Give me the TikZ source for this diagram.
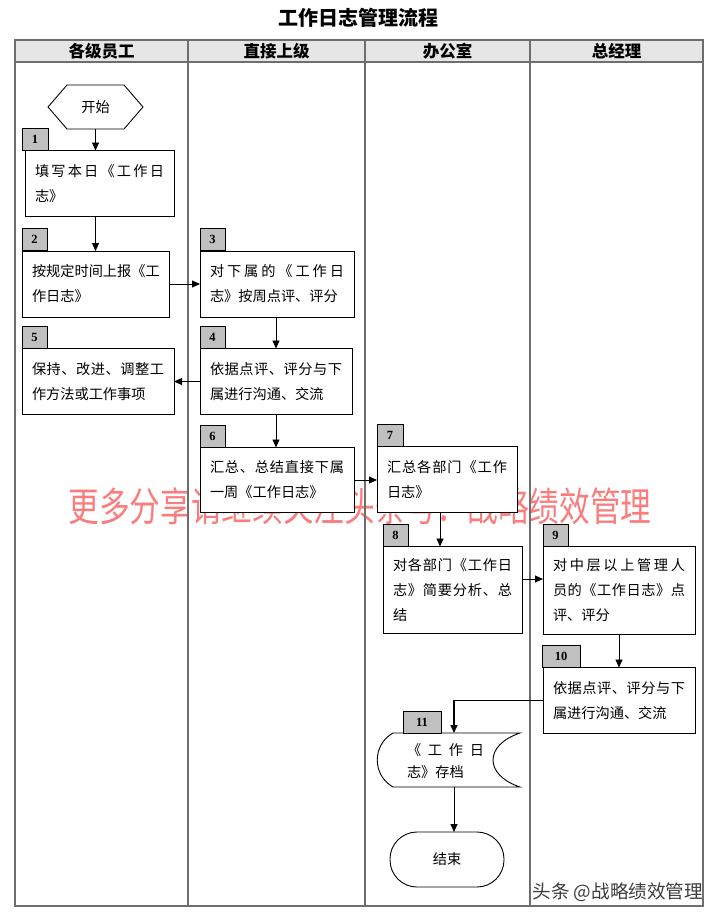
\documentclass[tikz,border=0pt]{standalone}
\usepackage{fontspec}
\usepackage{graphicx}
\usetikzlibrary{arrows.meta}
\setmainfont{Noto Sans CJK SC}
\newfontfamily\numfont{Liberation Serif}
\def\Jy#1{\ifx\relax#1\else\hfill#1\expandafter\Jy\fi}
\def\Jfirst#1{#1\Jy}
\newcommand\J[1]{\makebox[\linewidth][s]{\Jfirst#1\relax}}
\definecolor{hdr}{RGB}{230,230,230}
\definecolor{labfill}{RGB}{192,192,192}
\definecolor{lanecol}{RGB}{110,110,110}
\definecolor{wm}{RGB}{250,125,125}
\definecolor{credit}{RGB}{60,60,60}
\begin{document}
\begin{tikzpicture}[x=1pt,y=-1pt,
  every node/.style={inner sep=0pt, outer sep=0pt},
  txt/.style={font=\fontsize{14.2pt}{25pt}\selectfont},
  box/.style={txt, draw=black, line width=0.9pt, fill=white, inner xsep=10pt, inner ysep=0pt, align=left},
  lab/.style={draw=black, line width=0.9pt, fill=labfill, minimum height=22pt, font=\numfont\bfseries\fontsize{12.5pt}{14pt}\selectfont},
  arr/.style={-{Triangle[length=8pt,width=7pt]}, line width=0.9pt},
  lane/.style={draw=lanecol, line width=1.3pt},
  head/.style={font=\bfseries\fontsize{16.5pt}{18pt}\selectfont}]
\useasboundingbox (0,0) rectangle (717,922);
% watermark
\node[text=wm, font=\fontsize{30.7pt}{32pt}\selectfont] (wmk) at (360,506) {\scalebox{1}[1.3]{更多分享请继续关注头条号：战略绩效管理}};
% title
\node[font=\bfseries\fontsize{20pt}{22pt}\selectfont] (title) at (358.5,18) {工作日志管理流程};
% table
\fill[hdr] (15,40) rectangle (703,62);
\draw[lane] (15,40) rectangle (703,906);
\draw[lane] (15,62) -- (703,62);
\draw[lane] (188,40) -- (188,906);
\draw[lane] (365,40) -- (365,906);
\draw[lane] (530,40) -- (530,906);
\node[head] (h1) at (101.5,51) {各级员工};
\node[head] (h2) at (276.5,51) {直接上级};
\node[head] (h3) at (447.5,51) {办公室};
\node[head] (h4) at (616.5,51) {总经理};
% start
\draw[line width=0.9pt, fill=white] (48,107) -- (67,85) -- (124,85) -- (143,107) -- (124,129) -- (67,129) -- cycle;
\node[txt, minimum width=95pt, minimum height=44pt] (hex) at (95.5,107) {开始};
% boxes
\node[box, text width=129pt, minimum height=66pt] (b1) at (99.5,183.5) {\J{填写本日《工作日}\\志》};
\node[box, text width=127pt, minimum height=66pt] (b2) at (95.5,284) {\J{按规定时间上报《工}\\作日志》};
\node[box, text width=134pt, minimum height=66pt] (b3) at (277,284) {\J{对下属的《工作日}\\志》按周点评、评分};
\node[box, text width=132pt, minimum height=66pt] (b4) at (276,381.5) {\J{依据点评、评分与下}\\属进行沟通、交流};
\node[box, text width=132pt, minimum height=66pt] (b5) at (98,381.5) {\J{保持、改进、调整工}\\作方法或工作事项};
\node[box, text width=134pt, minimum height=65pt] (b6) at (277,480) {\J{汇总、总结直接下属}\\一周《工作日志》};
\node[box, text width=120pt, minimum height=66pt] (b7) at (447,479.5) {\J{汇总各部门《工作}\\日志》};
\node[box, text width=119pt, minimum height=87pt] (b8) at (452.5,590) {\J{对各部门《工作日}\\\J{志》简要分析、总}\\结};
\node[box, text width=132pt, minimum height=88pt] (b9) at (619,590.5) {\J{对中层以上管理人}\\\J{员的《工作日志》点}\\评、评分};
\node[box, text width=132pt, minimum height=66pt] (b10) at (619,700.5) {\J{依据点评、评分与下}\\属进行沟通、交流};
% storage
\draw[line width=0.9pt, fill=white] (393,733) -- (520,733) .. controls (484,745) and (484,775) .. (520,787) -- (393,787) .. controls (372,775) and (372,745) .. (393,733) -- cycle;
\node[font=\fontsize{14.2pt}{22pt}\selectfont, text width=77pt, align=left] (s11) at (445.5,761) {\J{《工作日}\\志》存档};
\coordinate (s11t) at (454,733);
\coordinate (s11b) at (454,787);
% end
\node[txt, draw=black, line width=0.9pt, fill=white, rounded corners=27pt, minimum width=114pt, minimum height=55pt] (fin) at (447,859.5) {结束};
% labels
\node[lab, minimum width=26pt] (l1) at (35,139) {1};
\node[lab, minimum width=25pt] (l2) at (34.5,239) {2};
\node[lab, minimum width=25pt] (l3) at (212.5,239) {3};
\node[lab, minimum width=25pt] (l4) at (212.5,337) {4};
\node[lab, minimum width=25pt] (l5) at (34.5,337) {5};
\node[lab, minimum width=25pt] (l6) at (212.5,436) {6};
\node[lab, minimum width=26pt] (l7) at (390,435) {7};
\node[lab, minimum width=25pt] (l8) at (395.5,535) {8};
\node[lab, minimum width=25pt] (l9) at (555.5,535) {9};
\node[lab, minimum width=38pt] (l10) at (561,656) {10};
\node[lab, minimum width=38pt] (l11) at (422,722) {11};
% connectors
\draw[arr] (hex.south) -- (hex.south |- b1.north);
\draw[arr] (b1.south -| hex.south) -- (hex.south |- b2.north);
\draw[arr] (b2.east) -- (b2.east -| b3.west);
\draw[arr] (b3.south -| b4.north) -- (b4.north);
\draw[arr] (b4.west) -- (b4.west -| b5.east);
\draw[arr] (b4.south) -- (b4.south |- b6.north);
\draw[arr] (b6.east) -- (b6.east -| b7.west);
\draw[arr] ([xshift=-7pt]b7.south) -- ([xshift=-7pt]b7.south |- b8.north);
\draw[arr] ([yshift=11pt]b8.east) -- ([yshift=11pt]b8.east -| b9.west);
\draw[arr] (b9.south) -- (b9.south |- b10.north);
\draw[arr, line width=1.6pt] (b10.west) -| (s11t);
\draw[arr] (s11b) -- (s11b |- fin.north);
% credit
\node[text=credit, font=\fontsize{18.6pt}{20pt}\selectfont, anchor=east] (credit) at (703,892) {头条 @战略绩效管理};
\end{tikzpicture}
\end{document}
